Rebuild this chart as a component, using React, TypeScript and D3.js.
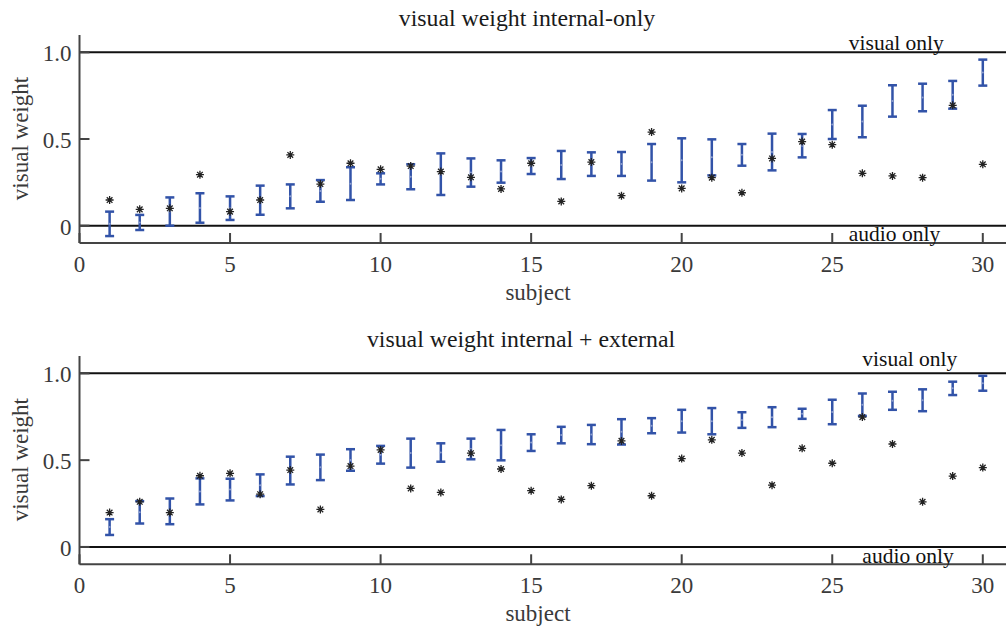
import React, { useEffect, useRef } from "react";
import { select, scaleLinear, range } from "d3";

// subjects 1..30
const subjects = range(1, 31);

// panel 1: visual weight internal-only
const internalLow = [
  -0.06, -0.025, 0.0, 0.017, 0.033, 0.063, 0.1, 0.138, 0.148, 0.238,
  0.21, 0.177, 0.225, 0.248, 0.298, 0.269, 0.287, 0.287, 0.26, 0.25,
  0.29, 0.346, 0.319, 0.394, 0.5, 0.51, 0.629, 0.66, 0.675, 0.808,
];
const internalHigh = [
  0.081, 0.062, 0.163, 0.187, 0.169, 0.231, 0.238, 0.263, 0.337, 0.302,
  0.354, 0.417, 0.388, 0.377, 0.39, 0.431, 0.423, 0.425, 0.471, 0.504,
  0.498, 0.471, 0.531, 0.529, 0.667, 0.692, 0.81, 0.819, 0.835, 0.958,
];
const internalStar = [
  0.148, 0.094, 0.1, 0.294, 0.081, 0.148, 0.408, 0.24, 0.36, 0.325,
  0.344, 0.312, 0.279, 0.212, 0.36, 0.14, 0.367, 0.173, 0.54, 0.215,
  0.277, 0.19, 0.388, 0.485, 0.467, 0.302, 0.287, 0.277, 0.694, 0.354,
];

// panel 2: visual weight internal + external
const combinedLow = [
  0.069, 0.135, 0.131, 0.245, 0.268, 0.293, 0.36, 0.385, 0.439, 0.48,
  0.457, 0.491, 0.505, 0.499, 0.553, 0.597, 0.592, 0.59, 0.655, 0.659,
  0.649, 0.686, 0.69, 0.738, 0.707, 0.755, 0.79, 0.782, 0.875, 0.9,
];
const combinedHigh = [
  0.16, 0.264, 0.279, 0.395, 0.393, 0.418, 0.52, 0.532, 0.563, 0.582,
  0.624, 0.597, 0.624, 0.674, 0.649, 0.692, 0.703, 0.736, 0.742, 0.79,
  0.8, 0.776, 0.805, 0.796, 0.848, 0.884, 0.894, 0.908, 0.952, 0.986,
];
const combinedStar = [
  0.198, 0.26, 0.198, 0.41, 0.424, 0.304, 0.443, 0.216, 0.466, 0.559,
  0.337, 0.314, 0.54, 0.449, 0.324, 0.274, 0.353, 0.611, 0.295, 0.509,
  0.617, 0.541, 0.356, 0.568, 0.482, 0.748, 0.593, 0.26, 0.408, 0.457,
];

const xTicks = [0, 5, 10, 15, 20, 25, 30];
const yTicks = [0, 0.5, 1.0];
const yTickLabels = ["0", "0.5", "1.0"];

const width = 1006;
const height = 629;
const font = "'Liberation Serif', 'Times New Roman', serif";
const blue = "#3253a8";

const panels = [
  {
    title: "visual weight internal-only",
    low: internalLow,
    high: internalHigh,
    star: internalStar,
    top: 35,
    bottom: 243,
    titleX: 527,
    titleY: 26,
    noteX: 25.55,
    visualDy: -2,
    audioDy: 15,
  },
  {
    title: "visual weight internal + external",
    low: combinedLow,
    high: combinedHigh,
    star: combinedStar,
    top: 356,
    bottom: 564.3,
    titleX: 521,
    titleY: 347,
    noteX: 26,
    visualDy: -7,
    audioDy: 16.5,
  },
];

function App() {
  const svgRef = useRef<SVGSVGElement>(null);

  useEffect(() => {
    const svg = select(svgRef.current);
    svg.selectAll("*").remove();

    const xScale = scaleLinear().domain([0, 31]).range([79.5, 79.5 + 31 * 30.11]);

    panels.forEach((p) => {
      const yScale = scaleLinear().domain([-0.1, 1.1]).range([p.bottom, p.top]);
      const g = svg.append("g");
      const x0 = xScale(0);

      // reference lines at 0 and 1
      g.selectAll("line.ref")
        .data([0, 1])
        .join("line")
        .attr("x1", x0)
        .attr("x2", width)
        .attr("y1", (d) => yScale(d))
        .attr("y2", (d) => yScale(d))
        .attr("stroke", "#111")
        .attr("stroke-width", 2);

      // axes
      g.append("line")
        .attr("x1", x0)
        .attr("x2", width)
        .attr("y1", p.bottom)
        .attr("y2", p.bottom)
        .attr("stroke", "#444")
        .attr("stroke-width", 2);
      g.append("line")
        .attr("x1", x0)
        .attr("x2", x0)
        .attr("y1", p.top)
        .attr("y2", p.bottom)
        .attr("stroke", "#444")
        .attr("stroke-width", 2);

      g.selectAll("line.xt")
        .data(xTicks)
        .join("line")
        .attr("x1", (d) => xScale(d))
        .attr("x2", (d) => xScale(d))
        .attr("y1", p.bottom)
        .attr("y2", p.bottom - 10)
        .attr("stroke", "#444")
        .attr("stroke-width", 2);
      g.selectAll("text.xt")
        .data(xTicks)
        .join("text")
        .attr("x", (d) => xScale(d))
        .attr("y", p.bottom + 29)
        .attr("text-anchor", "middle")
        .attr("font-family", font)
        .attr("font-size", 23)
        .attr("fill", "#3a3a3a")
        .text((d) => d);

      g.selectAll("line.yt")
        .data(yTicks)
        .join("line")
        .attr("x1", x0)
        .attr("x2", x0 + 10)
        .attr("y1", (d) => yScale(d))
        .attr("y2", (d) => yScale(d))
        .attr("stroke", "#444")
        .attr("stroke-width", 2);
      g.selectAll("text.yt")
        .data(yTicks)
        .join("text")
        .attr("x", 71.5)
        .attr("y", (d) => yScale(d) + 9)
        .attr("text-anchor", "end")
        .attr("font-family", font)
        .attr("font-size", 23)
        .attr("fill", "#3a3a3a")
        .text((d, i) => yTickLabels[i]);

      // labels
      g.append("text")
        .attr("x", p.titleX)
        .attr("y", p.titleY)
        .attr("text-anchor", "middle")
        .attr("font-family", font)
        .attr("font-size", 23.8)
        .attr("fill", "#1a1a1a")
        .text(p.title);
      g.append("text")
        .attr("x", 538)
        .attr("y", p.bottom + 57)
        .attr("text-anchor", "middle")
        .attr("font-family", font)
        .attr("font-size", 23)
        .attr("fill", "#3a3a3a")
        .text("subject");
      g.append("text")
        .attr("transform", `translate(28, ${(p.top + p.bottom) / 2 - 0.5}) rotate(-90)`)
        .attr("text-anchor", "middle")
        .attr("font-family", font)
        .attr("font-size", 23)
        .attr("fill", "#3a3a3a")
        .text("visual weight");

      g.append("text")
        .attr("x", xScale(p.noteX))
        .attr("y", yScale(1) + p.visualDy)
        .attr("font-family", font)
        .attr("font-size", 21.5)
        .attr("fill", "#111")
        .text("visual only");
      g.append("text")
        .attr("x", xScale(p.noteX))
        .attr("y", yScale(0) + p.audioDy)
        .attr("font-family", font)
        .attr("font-size", 21.5)
        .attr("fill", "#111")
        .text("audio only");

      // error bars
      const bars = g
        .selectAll("g.bar")
        .data(subjects)
        .join("g")
        .attr("stroke", blue)
        .attr("stroke-width", 2.5);
      bars
        .append("line")
        .attr("x1", (d) => xScale(d))
        .attr("x2", (d) => xScale(d))
        .attr("y1", (d, i) => yScale(p.low[i]))
        .attr("y2", (d, i) => yScale(p.high[i]));
      bars
        .append("line")
        .attr("x1", (d) => xScale(d) - 4.5)
        .attr("x2", (d) => xScale(d) + 4.5)
        .attr("y1", (d, i) => yScale(p.low[i]))
        .attr("y2", (d, i) => yScale(p.low[i]));
      bars
        .append("line")
        .attr("x1", (d) => xScale(d) - 4.5)
        .attr("x2", (d) => xScale(d) + 4.5)
        .attr("y1", (d, i) => yScale(p.high[i]))
        .attr("y2", (d, i) => yScale(p.high[i]));
      bars
        .append("circle")
        .attr("cx", (d) => xScale(d))
        .attr("cy", (d, i) => yScale((p.low[i] + p.high[i]) / 2))
        .attr("r", 1)
        .attr("stroke", "none")
        .attr("fill", "#8fa0d0");

      // asterisks
      const r = 4;
      const d2 = r * 0.707;
      g.selectAll("path.star")
        .data(subjects)
        .join("path")
        .attr("transform", (d, i) => `translate(${xScale(d)}, ${yScale(p.star[i])})`)
        .attr(
          "d",
          `M0,${-r}V${r}M${-r},0H${r}M${-d2},${-d2}L${d2},${d2}M${-d2},${d2}L${d2},${-d2}`
        )
        .attr("stroke", "#222")
        .attr("stroke-width", 1.3)
        .attr("fill", "none");
    });
  }, []);

  return (
    <svg
      ref={svgRef}
      width={width}
      height={height}
      style={{ position: "absolute", left: 0, top: 0, background: "#fff" }}
    />
  );
}

export default App;
